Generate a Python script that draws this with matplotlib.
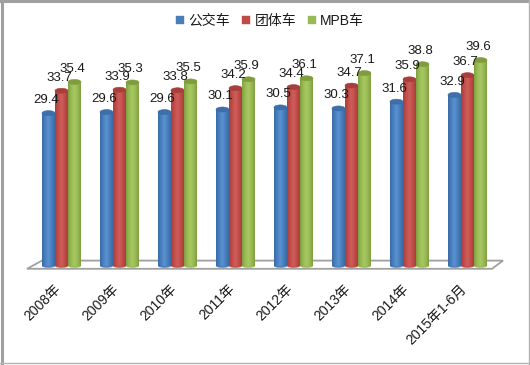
import matplotlib
matplotlib.use('Agg')
import matplotlib.pyplot as plt
import numpy as np
from matplotlib.colors import LinearSegmentedColormap
from matplotlib.lines import Line2D
from matplotlib.patches import Ellipse, Polygon, Rectangle

years = ['2008年', '2009年', '2010年', '2011年', '2012年', '2013年', '2014年', '2015年1-6月']
bus = [29.4, 29.6, 29.6, 30.1, 30.5, 30.3, 31.6, 32.9]
group = [33.7, 33.9, 33.8, 34.2, 34.4, 34.7, 35.9, 36.7]
mpb = [35.4, 35.3, 35.5, 35.9, 36.1, 37.1, 38.8, 39.6]
names = ['公交车', '团体车', 'MPB车']

fonts = ['Liberation Sans', 'Noto Sans CJK SC', 'DejaVu Sans']
plt.rcParams['font.family'] = fonts

W, H = 530, 365
X0, DX = 61.5, 58.0     # pixel of first group, pixels per group
Y0, DY = 266.0, 5.2     # pixel of value 0, pixels per unit


def dx(px):
    return (px - X0) / DX


def dy(py):
    return (Y0 - py) / DY


fig = plt.figure(figsize=(W / 100, H / 100), dpi=100)
ax = fig.add_axes([0, 0, 1, 1])
ax.set_axis_off()

# outer frame
fig.add_artist(Rectangle((0, 0), 1, 1, transform=fig.transFigure, fc='white', ec='none', zorder=-5))
fig.add_artist(Line2D([0.003, 0.003], [0, 1], color='#a0a0a0', lw=2.2))
fig.add_artist(Line2D([0, 1], [0.997, 0.997], color='#a0a0a0', lw=2.2))
fig.add_artist(Line2D([0.9985, 0.9985], [0, 1], color='#b4b4b4', lw=1))
fig.add_artist(Line2D([0, 1], [0.0045, 0.0045], color='#b4b4b4', lw=1))

# floor
floor = [(27, 268.8), (42, 260.6), (503, 260.6), (492, 268.8)]
ax.add_patch(Polygon([(dx(a), dy(b)) for a, b in floor], closed=True, fc='white', ec='#a0a0a0', lw=1.3, zorder=1))

series = [bus, group, mpb]
width = 13 / DX
offsets = [-width, 0, width]
shades = [
    ['#3a6ca6', '#4a80c0', '#5a92d2', '#4a7fbc', '#3a6ca6'],
    ['#a83f3c', '#c24e4b', '#cf5e5b', '#c04d4a', '#a83f3c'],
    ['#80a040', '#99bb55', '#a8c961', '#98b954', '#80a040'],
]
tops = ['#3f6fa8', '#a83e3b', '#7f9c3e']
legend_colors = ['#4a7ebb', '#be4b48', '#98b954']
cap_h = 5 / DY

for j in range(3):
    cmap = LinearSegmentedColormap.from_list('c%d' % j, shades[j])
    for i, v in enumerate(series[j]):
        x = i + offsets[j]
        z = 3 + i * 0.01 + j
        bar = ax.bar(x, v, width=width, color=shades[j][1], zorder=z)[0]
        img = ax.imshow(np.linspace(0, 1, 32).reshape(1, -1), cmap=cmap, aspect='auto',
                        extent=(x - width / 2, x + width / 2, 0, v), zorder=z + 0.01)
        img.set_clip_path(bar)
        ax.add_patch(Ellipse((x, 0), width, cap_h * 0.7, fc=shades[j][1], ec='none', zorder=z - 0.01))
        ax.add_patch(Ellipse((x, v), width, cap_h, angle=0, fc=tops[j], ec=shades[j][0], lw=0.4, zorder=z + 0.02))
        ax.text(x - 2.5 / DX, v + 13 / DY, '%.1f' % v, ha='center', va='center', fontsize=9.5,
                color='#1a1a1a', zorder=20)

ax.set_xlim(dx(0), dx(W))
ax.set_ylim(dy(H), dy(0))

for i, label in enumerate(years):
    ax.text(i + dx(53.5), dy(282), label, rotation=45, rotation_mode='anchor', ha='right', va='top',
            fontsize=10, color='#1a1a1a', zorder=20)

handles = [Line2D([], [], ls='none', marker='s', ms=5.8, mfc=c, mec=c, mew=0.3) for c in legend_colors]
ax.legend(handles, names, ncol=3, loc='center', bbox_to_anchor=(270 / W, 1 - 21 / H), frameon=False, fontsize=10,
          handlelength=0.6, handletextpad=0.3, columnspacing=0.85, labelcolor='#1a1a1a')

fig.savefig('out.png', dpi=100)
